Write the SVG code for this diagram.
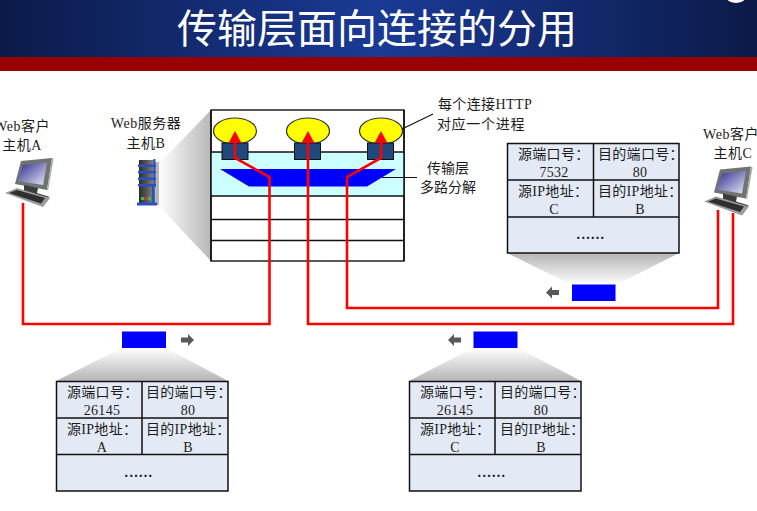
<svg xmlns="http://www.w3.org/2000/svg" xmlns:xlink="http://www.w3.org/1999/xlink" width="757" height="511" viewBox="0 0 757 511">
  <style>
    text { font-family: "Liberation Serif", "Noto Sans CJK SC", serif; fill: #1c1c1c; font-size: 14px; text-anchor: middle; }
    .title { fill: #ffffff; font-size: 40px; font-family: "Noto Sans CJK SC", "Liberation Serif", sans-serif; font-weight: 400; }
    .label { letter-spacing: .5px; }
    .cell { letter-spacing: .3px; }
    .head { letter-spacing: .3px; text-anchor: start; }
    .dots { letter-spacing: 1.300px; font-weight: bold; }
    .tbl { fill: #e4eaf5; stroke: #111; stroke-width: 1.5; }
    .rule { stroke: #111; stroke-width: 1.5; fill: none; }
    .stack { fill: #fff; stroke: #222; stroke-width: 1.5; }
    .proc { fill: #ffff00; stroke: #333; stroke-width: 1.2; }
    .sock { fill: #1f497d; stroke: #111; stroke-width: 1; }
    .seg { fill: #0000ff; }
    .wire { fill: none; stroke: #ff0000; stroke-width: 2.6; stroke-linejoin: miter; }
    .lead { stroke: #111; stroke-width: 1.2; fill: none; }
    .dir { fill: #595959; }
  </style>
  <defs>
    <linearGradient id="band" x1="0" x2="1" y1="0" y2="0">
      <stop offset="0" stop-color="#0b1a48"/>
      <stop offset="0.5" stop-color="#1a3a96"/>
      <stop offset="1" stop-color="#0b1a48"/>
    </linearGradient>
    <linearGradient id="wedgeDown" x1="0" x2="0" y1="0" y2="1">
      <stop offset="0" stop-color="#ffffff"/>
      <stop offset="1" stop-color="#b4b4b4"/>
    </linearGradient>
    <linearGradient id="wedgeUp" x1="0" x2="0" y1="0" y2="1">
      <stop offset="0" stop-color="#b4b4b4"/>
      <stop offset="1" stop-color="#ffffff"/>
    </linearGradient>
    <linearGradient id="wedgeSide" x1="0" x2="1" y1="0" y2="0">
      <stop offset="0" stop-color="#ffffff"/>
      <stop offset="1" stop-color="#b8b8b8"/>
    </linearGradient>
    <linearGradient id="screen" x1="0" x2="1" y1="0" y2="1">
      <stop offset="0" stop-color="#2b2b90"/>
      <stop offset="1" stop-color="#e8e8f4"/>
    </linearGradient>
    <linearGradient id="tower" x1="0" x2="1" y1="0" y2="0">
      <stop offset="0" stop-color="#2a2a2a"/>
      <stop offset="1" stop-color="#8a8a8a"/>
    </linearGradient>
    <marker id="tip" markerUnits="userSpaceOnUse" viewBox="0 0 12 13" markerWidth="12" markerHeight="13" refX="8" refY="6.5" orient="auto">
      <path d="M0 0L12 6.5L0 13Z" fill="#ff0000"/>
    </marker>
    <g id="pc">
      <path d="M21 161L52 158L47 190L15 184Z" fill="#6f7472"/>
      <path d="M23 165L47 162.500L43 185L18 181Z" fill="url(#screen)"/>
      <path d="M52 158L53.500 159L48 191L47 190Z" fill="#a8aca9"/>
      <path d="M24 185L38 188L37 193L50 197L42 199L24 192Z" fill="#3b3d3c"/>
      <path d="M5 193L17 188L50 198L43 207Z" fill="#9a9c9b"/>
      <path d="M9 193L17 190L45 198L41 203.500Z" fill="#2f2f2f"/>
    </g>
    <path id="arrowRight" d="M0 -2.500H7V-6L13 0L7 6V2.500H0Z"/>
  </defs>

  <!-- header band -->
  <g id="header">
    <rect x="0" y="0" width="757" height="57" fill="url(#band)"/>
    <rect x="0" y="57" width="757" height="14" fill="#990000"/>
    <ellipse cx="736" cy="-2" rx="9" ry="5" fill="#ffffff"/>
    <text class="title" x="377" y="43">传输层面向连接的分用</text>
  </g>

  <!-- magnified projections -->
  <g id="projections">
    <path d="M158 165L211 110V261L158 205Z" fill="url(#wedgeSide)"/>
    <path d="M507 253H679L616 285H572Z" fill="url(#wedgeUp)"/>
    <path d="M122 348H166L228 381H56Z" fill="url(#wedgeDown)"/>
    <path d="M473 348H518L581 381H409Z" fill="url(#wedgeDown)"/>
  </g>

  <g id="host-a">
    <use xlink:href="#pc" href="#pc"/>
    <text class="label" x="22" y="131">Web客户</text>
    <text class="label" x="22" y="150">主机A</text>
  </g>

  <g id="host-b">
    <rect x="154" y="162" width="5" height="43" fill="#b5b5b5"/>
    <rect x="139" y="160" width="16" height="45" fill="url(#tower)"/>
    <g fill="#2b50c0">
      <rect x="138" y="164.500" width="18" height="2.500"/>
      <rect x="138" y="171" width="18" height="2.500"/>
      <rect x="138" y="177.500" width="18" height="2.500"/>
      <rect x="138" y="184" width="18" height="2.500"/>
      <rect x="137" y="202.500" width="20" height="3"/>
      <rect x="152" y="186" width="2.500" height="18"/>
      <rect x="153.500" y="159" width="2" height="28"/>
    </g>
    <rect x="141" y="197" width="3" height="3" fill="#22cc44"/>
    <rect x="144.500" y="197" width="3" height="3" fill="#e53030"/>
    <rect x="148" y="197" width="3" height="3" fill="#22cc44"/>
    <text class="label" x="146" y="128">Web服务器</text>
    <text class="label" x="146" y="148">主机B</text>
  </g>

  <g id="host-c">
    <use xlink:href="#pc" href="#pc" x="699" y="8.500"/>
    <text class="label" x="731" y="139">Web客户</text>
    <text class="label" x="733" y="158">主机C</text>
  </g>

  <!-- protocol stack of host B -->
  <g id="stack">
    <rect class="stack" x="211" y="110" width="193" height="151"/>
    <rect x="211" y="152" width="193" height="44" fill="#ccffff"/>
    <path class="rule" d="M211 152H404M211 196H404M211 219.500H404M211 240.500H404"/>
    <path class="rule" d="M211 110V261M404 110V261" stroke-width="1.200"/>
    <path class="seg" d="M220 169H396L367 186.500H249Z"/>
  </g>
  <g id="process-1">
    <ellipse class="proc" cx="235" cy="131" rx="21.500" ry="13"/>
    <rect class="sock" x="222" y="143" width="26" height="16.500"/>
  </g>
  <g id="process-2">
    <ellipse class="proc" cx="308" cy="131" rx="21.500" ry="13"/>
    <rect class="sock" x="294.500" y="143" width="26" height="16.500"/>
  </g>
  <g id="process-3">
    <ellipse class="proc" cx="381" cy="131" rx="21.500" ry="13"/>
    <rect class="sock" x="367.500" y="143" width="26" height="16.500"/>
  </g>

  <g id="note-process">
    <text x="485" y="109" style="letter-spacing:.4px">每个连接HTTP</text>
    <text x="481" y="129" style="letter-spacing:.7px">对应一个进程</text>
  </g>
  <g id="note-demux">
    <text x="448" y="173">传输层</text>
    <text x="448" y="192">多路分解</text>
  </g>

  <!-- connectors -->
  <g id="connectors">
    <path class="wire" d="M23 203V324H269.500V177L235 158V135" marker-end="url(#tip)"/>
    <path class="wire" d="M733 213V324H308V135" marker-end="url(#tip)"/>
    <path class="wire" d="M718 210V308H347V177L381 158V135" marker-end="url(#tip)"/>
    <path class="lead" d="M402 129L433 114"/>
    <path class="lead" d="M382 177.500H417"/>
  </g>

  <!-- segment from C on its way to B -->
  <g id="segment-c7532">
    <rect class="seg" x="572" y="284.500" width="43.500" height="16.500"/>
    <use class="dir" xlink:href="#arrowRight" href="#arrowRight" transform="translate(559 292.500) scale(-1 1)"/>
    <rect class="tbl" x="507.500" y="143.500" width="171.500" height="109.500"/>
    <path class="rule" d="M507.500 180H679M507.500 217H679M593.500 143.500V217"/>
    <text class="head" x="518" y="159">源端口号：</text>
    <text class="head" x="598" y="159">目的端口号：</text>
    <text class="cell" x="554" y="177">7532</text>
    <text class="cell" x="640" y="177">80</text>
    <text class="head" x="518" y="196">源IP地址：</text>
    <text class="head" x="598" y="196">目的IP地址：</text>
    <text class="cell" x="554" y="214">C</text>
    <text class="cell" x="640" y="214">B</text>
    <text class="dots" x="591" y="239">......</text>
  </g>

  <!-- segment from A on its way to B -->
  <g id="segment-a26145">
    <rect class="seg" x="122" y="331.500" width="44" height="16.500"/>
    <use class="dir" xlink:href="#arrowRight" href="#arrowRight" transform="translate(181 340)"/>
    <rect class="tbl" x="56.500" y="381.500" width="171.500" height="109.500"/>
    <path class="rule" d="M56.500 418H228M56.500 454.500H228M142 381.500V454.500"/>
    <text class="head" x="67" y="397">源端口号：</text>
    <text class="head" x="146" y="397">目的端口号：</text>
    <text class="cell" x="102" y="415">26145</text>
    <text class="cell" x="188" y="415">80</text>
    <text class="head" x="67" y="434">源IP地址：</text>
    <text class="head" x="146" y="434">目的IP地址：</text>
    <text class="cell" x="102" y="452">A</text>
    <text class="cell" x="188" y="452">B</text>
    <text class="dots" x="139" y="477">......</text>
  </g>

  <!-- segment from C, second connection -->
  <g id="segment-c26145">
    <rect class="seg" x="473.500" y="331.500" width="44" height="16.500"/>
    <use class="dir" xlink:href="#arrowRight" href="#arrowRight" transform="translate(461 340) scale(-1 1)"/>
    <rect class="tbl" x="409.500" y="381.500" width="171.500" height="109.500"/>
    <path class="rule" d="M409.500 418H581M409.500 454.500H581M495 381.500V454.500"/>
    <text class="head" x="420" y="397">源端口号：</text>
    <text class="head" x="500" y="397">目的端口号：</text>
    <text class="cell" x="455" y="415">26145</text>
    <text class="cell" x="541" y="415">80</text>
    <text class="head" x="420" y="434">源IP地址：</text>
    <text class="head" x="500" y="434">目的IP地址：</text>
    <text class="cell" x="455" y="452">C</text>
    <text class="cell" x="541" y="452">B</text>
    <text class="dots" x="492" y="477">......</text>
  </g>
</svg>
